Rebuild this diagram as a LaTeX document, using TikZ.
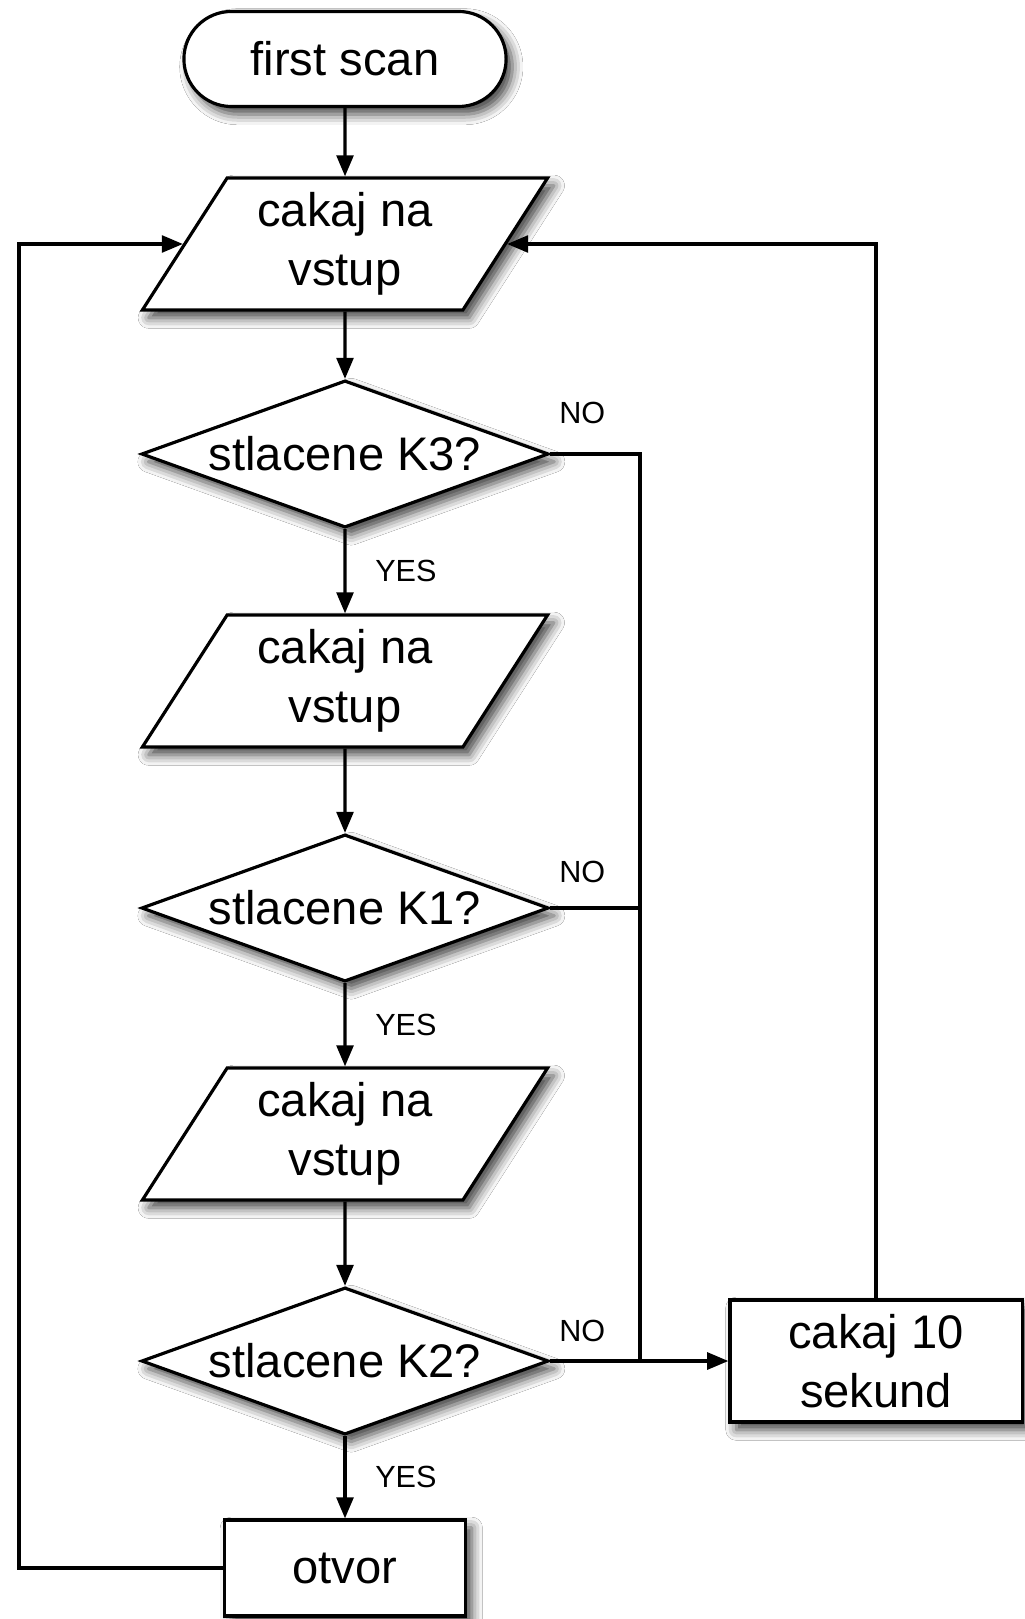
\documentclass[tikz,border=0pt]{standalone}
\usepackage{fontspec}
\setmainfont{Liberation Sans}
\usetikzlibrary{positioning, arrows.meta, calc, shapes.geometric, shapes.misc, shadows.blur}

\begin{document}
\begin{tikzpicture}[x=0.01cm, y=-0.01cm,
    base/.style={draw, fill=white, line width=0.9pt, align=center, inner sep=0pt,
                 font=\fontsize{13.4}{16.8}\selectfont,
                 blur shadow={shadow xshift=1.8pt, shadow yshift=-2.2pt, shadow blur radius=3pt, shadow opacity=75}},
    term/.style={base, rounded rectangle, minimum width=3.22cm, minimum height=0.95cm},
    io/.style={base, trapezium, trapezium left angle=58.5, trapezium right angle=121.5,
               trapezium stretches=true, minimum width=4.07cm, minimum height=1.32cm},
    decide/.style={base, diamond, aspect=2.77, minimum width=4.07cm, minimum height=1.47cm},
    proc/.style={base, rectangle, minimum height=0.96cm},
    arr/.style={-{Triangle[length=6pt, width=4.8pt]}, line width=0.9pt},
    wire/.style={line width=0.9pt},
    lbl/.style={font=\fontsize{8.7}{10}\selectfont},
]
    \fill[white] (0,0) rectangle (1025,1619);
    \useasboundingbox (0,0) rectangle (1025,1619);

    % Flow
    \node[term]   (start) at (345, 59)   {first scan};
    \node[io]     (in1)   at (345, 244)  {cakaj na\\vstup};
    \node[decide] (k3)    at (345, 454)  {stlacene K3?};
    \node[io]     (in2)   at (345, 681)  {cakaj na\\vstup};
    \node[decide] (k1)    at (345, 908)  {stlacene K1?};
    \node[io]     (in3)   at (345, 1134) {cakaj na\\vstup};
    \node[decide] (k2)    at (345, 1361) {stlacene K2?};
    \node[proc, minimum width=2.41cm] (open) at (345, 1568) {otvor};
    \node[proc, minimum width=2.92cm, minimum height=1.22cm] (wait) at (876, 1361) {cakaj 10\\sekund};

    \coordinate (back)  at (19, 244);
    \coordinate (merge) at (640, 1361);

    % Arrows
    \draw[arr] (start) -- (in1);
    \draw[arr] (in1) -- (k3);
    \draw[arr] (k3) -- node[lbl, right=0.17cm] (yes3) {YES} (in2);
    \draw[arr] (in2) -- (k1);
    \draw[arr] (k1) -- node[lbl, right=0.17cm] (yes1) {YES} (in3);
    \draw[arr] (in3) -- (k2);
    \draw[arr] (k2) -- node[lbl, right=0.17cm] (yes2) {YES} (open);

    % NO branches
    \draw[wire] (k3.east) -| (merge);
    \draw[wire] (k1.east) -- (k1.east -| merge);
    \draw[arr] (k2.east) -- (wait.west);
    \node[lbl] (no3) at ($(k3.east)+(32,-41)$) {NO};
    \node[lbl] (no1) at ($(k1.east)+(32,-36)$) {NO};
    \node[lbl] (no2) at ($(k2.east)+(32,-30)$) {NO};

    % Loops back
    \draw[arr] (wait.north) |- (in1.right side);
    \draw[arr] (open.west) -| (back) -- (in1.left side);
\end{tikzpicture}
\end{document}
